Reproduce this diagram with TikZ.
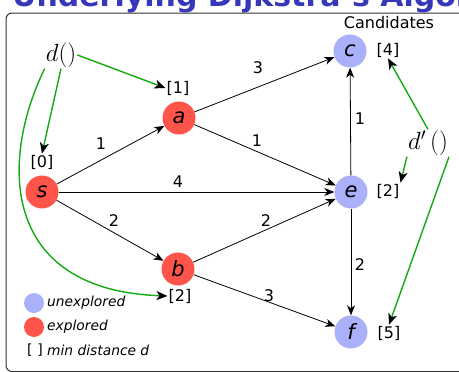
\documentclass[tikz,border=0pt]{standalone}
\usepackage{fontspec}
\setsansfont{DejaVu Sans}
\usetikzlibrary{arrows.meta}
\definecolor{redn}{RGB}{255,84,74}
\definecolor{bluen}{RGB}{170,176,250}
\definecolor{greenl}{RGB}{20,170,20}
\definecolor{titleblue}{RGB}{55,55,185}
\begin{document}
\begin{tikzpicture}[x=1pt,y=-1pt,
  vert/.style={circle,minimum size=33pt,inner sep=0pt,font=\sffamily\itshape\fontsize{21}{21}\selectfont},
  expl/.style={vert,fill=redn},
  unex/.style={vert,fill=bluen},
  wt/.style={font=\sffamily\fontsize{16}{16}\selectfont,inner sep=0pt},
  dist/.style={font=\sffamily\fontsize{16}{16}\selectfont,inner sep=1pt},
  edgearrow/.style={-{Stealth[length=10pt,width=8pt,inset=3pt]},line width=0.8pt},
  greenarrow/.style={-{Stealth[length=11pt,width=9pt,inset=3pt,color=black]},line width=1.4pt,draw=greenl},
  leg/.style={font=\sffamily\itshape\fontsize{13.8}{13.8}\selectfont,inner sep=0pt,anchor=west},
  fn/.style={font=\fontsize{25}{25}\selectfont,inner sep=1pt}
]
\useasboundingbox (0,0) rectangle (459,372);
\begin{scope}
\clip (0,0) rectangle (459,372);
\node[anchor=base west, inner sep=0pt, text=titleblue, font=\sffamily\bfseries\fontsize{30}{30}\selectfont] (title) at (12,6.5) {Underlying Dijkstra's Algorithm};
\draw[line width=1pt, draw=black!80, rounded corners=6pt] (6,13) rectangle (480,371.5);
\end{scope}

\node[expl] (s) at (42,192) {s};
\node[expl] (a) at (179,118) {a};
\node[expl] (b) at (178,269) {b};
\node[unex] (c) at (350,51) {c};
\node[unex] (e) at (351,192) {e};
\node[unex] (f) at (351,332) {f};

\draw[edgearrow] (s) -- (a);
\draw[edgearrow] (s) -- (e);
\draw[edgearrow] (s) -- (b);
\draw[edgearrow] (a) -- (c);
\draw[edgearrow] (a) -- (e);
\draw[edgearrow] (b) -- (e);
\draw[edgearrow] (b) -- (f);
\draw[edgearrow] (e) -- (c);
\draw[edgearrow] (e) -- (f);

\node[wt] (wsa) at (101,144) {1};
\node[wt] (wse) at (178,182) {4};
\node[wt] (wsb) at (114,221) {2};
\node[wt] (wac) at (258,68) {3};
\node[wt] (wae) at (257,141) {1};
\node[wt] (wbe) at (266,221) {2};
\node[wt] (wbf) at (269,296) {3};
\node[wt] (wec) at (360,119) {1};
\node[wt] (wef) at (360,265) {2};

\node[dist] (ds) at (42,162) {[0]};
\node[dist] (da) at (178,88) {[1]};
\node[dist] (db) at (180,296) {[2]};
\node[dist] (dc) at (388,50) {[4]};
\node[dist] (de) at (388,191) {[2]};
\node[dist] (df) at (389,333) {[5]};
\node[dist] (cand) at (389,23) {Candidates};

\node[fn] (d) at (61,55) {$d()$};
\node[fn] (dp) at (428,143) {$d'\,()$};

\draw[greenarrow] (d.east) -- (da.west);
\draw[greenarrow] (d.south) -- (ds.north);
\draw[greenarrow] (d.south west) .. controls (0,160) and (0,290) .. (db.west);
\draw[greenarrow] (dp.north) -- (dc.south);
\draw[greenarrow] (dp.south west) -- (de.north east);
\draw[greenarrow] (dp.south east) -- (df.north);

\node[circle,fill=bluen,minimum size=20pt,inner sep=0pt] (lu) at (34,303) {};
\node[circle,fill=redn,minimum size=20pt,inner sep=0pt] (le) at (34,327) {};
\node[leg] (tu) at (47,303) {unexplored};
\node[leg] (te) at (47,327) {explored};
\node[font=\sffamily\fontsize{14}{14}\selectfont,inner sep=0pt] (lb) at (35,350) {[\,\,]};
\node[leg] (tb) at (47,350) {min distance d};
\end{tikzpicture}
\end{document}
